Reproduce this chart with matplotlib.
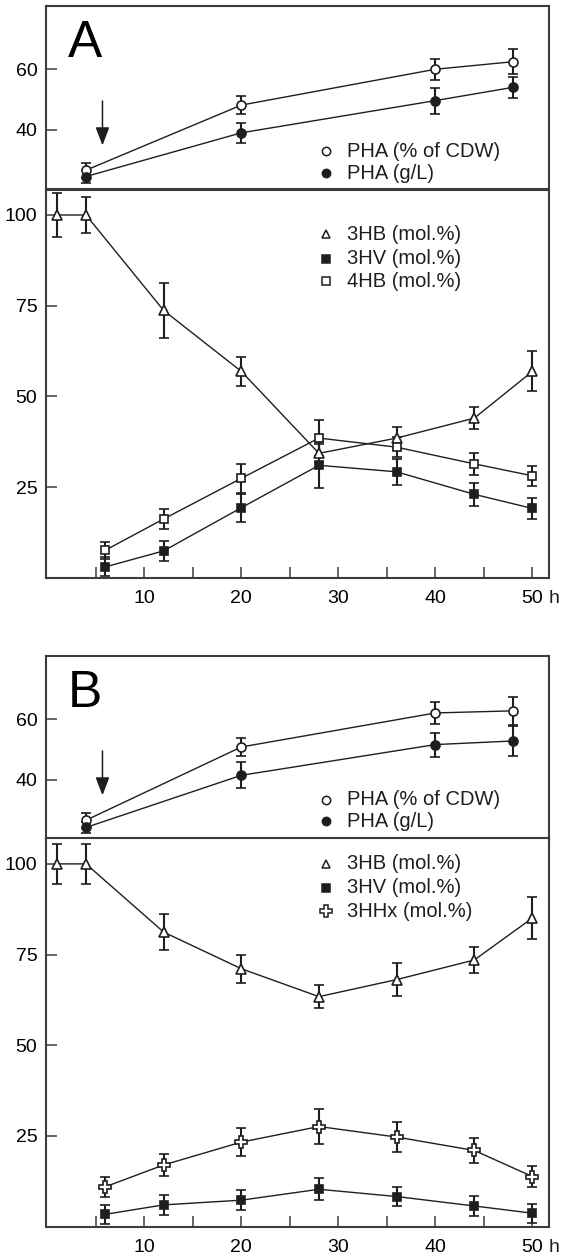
import numpy as np
import matplotlib.pyplot as plt
from matplotlib.ticker import MultipleLocator, FixedLocator

plt.rcParams['font.family'] = ['Liberation Sans', 'DejaVu Sans']

# tempos de amostragem (h)
t_top = [4, 20, 40, 48]
t_3hb = [1, 4, 12, 20, 28, 36, 44, 50]
t_co = [6, 12, 20, 28, 36, 44, 50]

# painel A
A_cdw = [26.5, 48.1, 60.0, 62.5]
A_cdw_err = [2.5, 3.0, 3.5, 4.2]
A_gl = [24.4, 38.9, 49.6, 54.0]
A_gl_err = [2.0, 3.4, 4.3, 3.5]
A_3hb = [100, 100, 73.7, 56.9, 34.3, 38.5, 44.0, 56.9]
A_3hb_err = [6, 5, 7.5, 4, 2.5, 3, 3, 5.5]
A_3hv = [3.0, 7.4, 19.3, 31.0, 29.2, 23.0, 19.1]
A_3hv_err = [2.6, 2.8, 3.9, 6.3, 3.5, 3.2, 2.8]
A_4hb = [7.6, 16.2, 27.4, 38.5, 36.0, 31.4, 28.1]
A_4hb_err = [2.3, 2.8, 4.0, 5.0, 2.7, 3.0, 2.7]

# painel B
B_cdw = [26.5, 50.8, 62.1, 62.8]
B_cdw_err = [2.5, 3.0, 3.7, 4.6]
B_gl = [24.1, 41.4, 51.6, 52.8]
B_gl_err = [1.8, 4.3, 4.0, 5.0]
B_3hb = [100, 100, 81.2, 71.1, 63.4, 68.1, 73.5, 85.1]
B_3hb_err = [5.5, 5.5, 5.0, 3.8, 3.2, 4.6, 3.5, 5.8]
B_3hv = [3.4, 6.0, 7.3, 10.3, 8.3, 5.7, 3.7]
B_3hv_err = [2.6, 2.7, 2.7, 3.0, 2.6, 2.7, 2.6]
B_3hhx = [11.0, 17.0, 23.3, 27.6, 24.7, 21.0, 13.8]
B_3hhx_err = [2.7, 3.1, 3.8, 4.8, 4.1, 3.5, 3.0]

INK = '#1e1e1e'
SPINE = '#3c3c3c'
FS = 14
FS_LEG = 14.5


def serie(ax, x, y, err, marker, face, ms=6.5):
    ax.errorbar(x, y, yerr=err, color=INK, lw=1.0, marker=marker, ms=ms,
                mfc=face, mec=INK, mew=1.2, ecolor=INK, elinewidth=1.5,
                capsize=3.8, capthick=1.5, zorder=3)


def estilo(ax):
    for s in ax.spines.values():
        s.set_linewidth(1.5)
        s.set_color(SPINE)
    ax.tick_params(direction='in', length=8, width=1.1, color=SPINE,
                   labelsize=FS, pad=6)
    ax.tick_params(axis='x', which='both', direction='in', length=8,
                   width=1.1, color=SPINE, pad=9)


def legenda(ax, itens, x0, ys):
    for (marker, face, label, ms), y in zip(itens, ys):
        ax.plot([x0], [y], transform=ax.transAxes, marker=marker, ms=ms,
                mfc=face, mec=INK, mew=1.1, ls='none', clip_on=False)
        ax.text(x0 + 0.042, y, label, transform=ax.transAxes, fontsize=FS_LEG,
                va='center', ha='left', color=INK)


def painel(fig, y_top, y_bot, letra, cdw, cdw_err, gl, gl_err,
           hb, hb_err, hv, hv_err, terc, terc_err, terc_mk, terc_label,
           leg_top_y, leg_bot_y):
    left, width = 0.081, 0.8924
    ax1 = fig.add_axes([left, y_top, width, 0.146])
    ax2 = fig.add_axes([left, y_bot, width, 0.3083])

    serie(ax1, t_top, cdw, cdw_err, 'o', 'white')
    serie(ax1, t_top, gl, gl_err, 'o', INK)
    ax1.set_xlim(-0.15, 51.7)
    ax1.set_ylim(20.1, 81.1)
    ax1.set_yticks([40, 60])
    ax1.set_xticks([])
    estilo(ax1)
    ax1.annotate('', xy=(5.7, 33.8), xytext=(5.7, 50.4),
                 arrowprops=dict(arrowstyle='-|>,head_length=1.1,head_width=0.42',
                                 color=INK, lw=1.1))
    ax1.text(0.044, 0.72, letra, transform=ax1.transAxes, fontsize=37,
             va='baseline', ha='left', color='black')
    legenda(ax1, [('o', 'white', 'PHA (% of CDW)', 6),
                  ('o', INK, 'PHA (g/L)', 6)], 0.556, leg_top_y)

    serie(ax2, t_3hb, hb, hb_err, '^', 'white')
    serie(ax2, t_co, hv, hv_err, 's', INK, ms=6)
    if terc_mk == 'P':
        serie(ax2, t_co, terc, terc_err, 'P', 'white', ms=8.5)
    else:
        serie(ax2, t_co, terc, terc_err, terc_mk, 'white', ms=6)
    ax2.set_xlim(-0.15, 51.7)
    ax2.set_ylim(0, 107)
    ax2.set_yticks([25, 50, 75, 100])
    ax2.xaxis.set_major_locator(FixedLocator([10, 20, 30, 40, 50]))
    ax2.xaxis.set_minor_locator(FixedLocator([5, 15, 25, 35, 45]))
    ax2.set_xticklabels(['10', '20', '30', '40', '50'])
    estilo(ax2)
    ax2.annotate('h', xy=(50, 0), xycoords=('data', 'axes fraction'),
                 xytext=(11.5, -9), textcoords='offset points',
                 fontsize=FS, ha='left', va='top', color=INK)
    tms = 8 if terc_mk == 'P' else 6
    legenda(ax2, [('^', 'white', '3HB (mol.%)', 6), ('s', INK, '3HV (mol.%)', 6),
                  (terc_mk, 'white', terc_label, tms)], 0.556, leg_bot_y)


fig = plt.figure(figsize=(5.64, 12.59), dpi=100)

painel(fig, 0.8495, 0.5411, 'A', A_cdw, A_cdw_err, A_gl, A_gl_err,
       A_3hb, A_3hb_err, A_3hv, A_3hv_err, A_4hb, A_4hb_err, 's', '4HB (mol.%)',
       [0.207, 0.087], [0.885, 0.822, 0.764])
painel(fig, 0.3332, 0.0257, 'B', B_cdw, B_cdw_err, B_gl, B_gl_err,
       B_3hb, B_3hb_err, B_3hv, B_3hv_err, B_3hhx, B_3hhx_err, 'P', '3HHx (mol.%)',
       [0.216, 0.10], [0.935, 0.873, 0.813])

fig.savefig('out.png', dpi=100)
